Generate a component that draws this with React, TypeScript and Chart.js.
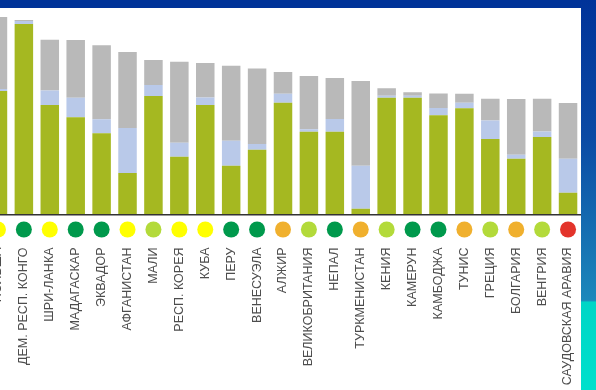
import React, { useEffect, useRef } from "react";
import { Chart, registerables } from "chart.js";

Chart.register(...registerables);

const categories = [
  "ПОЛЬША",
  "ДЕМ. РЕСП. КОНГО",
  "ШРИ-ЛАНКА",
  "МАДАГАСКАР",
  "ЭКВАДОР",
  "АФГАНИСТАН",
  "МАЛИ",
  "РЕСП. КОРЕЯ",
  "КУБА",
  "ПЕРУ",
  "ВЕНЕСУЭЛА",
  "АЛЖИР",
  "ВЕЛИКОБРИТАНИЯ",
  "НЕПАЛ",
  "ТУРКМЕНИСТАН",
  "КЕНИЯ",
  "КАМЕРУН",
  "КАМБОДЖА",
  "ТУНИС",
  "ГРЕЦИЯ",
  "БОЛГАРИЯ",
  "ВЕНГРИЯ",
  "САУДОВСКАЯ АРАВИЯ",
];

const greenValues = [61.8, 95.3, 54.8, 48.6, 40.6, 20.8, 59.3, 28.9, 54.8, 24.4, 32.4, 55.9, 41.4, 41.4, 2.9, 58.4, 58.4, 49.6, 53.1, 37.8, 27.9, 38.8, 10.9];
const blueValues = [0.9, 1.4, 7.2, 9.8, 7.0, 22.5, 5.5, 7.0, 3.7, 12.5, 2.9, 4.5, 1.2, 6.4, 21.5, 1.0, 1.0, 3.7, 2.8, 9.2, 2.0, 2.7, 17.0];
const grayValues = [36.0, 0.5, 25.4, 28.9, 37.0, 37.9, 12.5, 40.5, 17.2, 37.5, 37.7, 10.9, 26.7, 20.5, 42.4, 3.7, 1.7, 7.2, 4.5, 10.9, 27.9, 16.4, 27.9];

const DG = "#00994c";
const YE = "#ffff00";
const LG = "#b3da3a";
const OR = "#f0b02e";
const RE = "#e3342b";
const dotColors = [YE, DG, YE, DG, DG, YE, LG, YE, YE, DG, DG, OR, LG, DG, OR, LG, DG, DG, OR, LG, OR, LG, RE];

const dotsPlugin = {
  id: "dots",
  afterDraw(chart: any) {
    const ctx = chart.ctx;
    const xs = chart.scales.x;
    const y = chart.chartArea.bottom + 15;
    ctx.save();
    dotColors.forEach((c, i) => {
      const x = xs.getPixelForValue(i);
      ctx.beginPath();
      ctx.arc(x, y, 8, 0, Math.PI * 2);
      ctx.fillStyle = c;
      ctx.fill();
    });
    ctx.restore();
  },
};

export default function App() {
  const ref = useRef<HTMLCanvasElement | null>(null);
  useEffect(() => {
    if (!ref.current) return;
    const chart = new Chart(ref.current, {
      type: "bar",
      data: {
        labels: categories,
        datasets: [
          { data: greenValues, backgroundColor: "#a5b821", borderWidth: 0 },
          { data: blueValues, backgroundColor: "#b9c9e9", borderWidth: 0 },
          { data: grayValues, backgroundColor: "#b9b9b9", borderWidth: 0 },
        ],
      },
      options: {
        responsive: false,
        animation: false,
        devicePixelRatio: 1,
        layout: { padding: { top: 14.5, left: 0, right: 0, bottom: 0 } },
        datasets: { bar: { categoryPercentage: 1, barPercentage: 0.714 } },
        plugins: { legend: { display: false }, tooltip: { enabled: false } },
        scales: {
          x: {
            stacked: true,
            grid: { display: false, drawTicks: false },
            border: { display: true, color: "#333333", width: 1.5, z: 1 },
            ticks: {
              autoSkip: false,
              minRotation: 90,
              maxRotation: 90,
              padding: 33,
              color: "#4d4d4d",
              font: { family: "'Liberation Sans', Arial, sans-serif", size: 12.5 },
            },
            afterFit: (scale: any) => {
              scale.height = 175.5;
              scale.paddingLeft = 0;
              scale.paddingRight = 0;
            },
          },
          y: {
            stacked: true,
            display: false,
            min: 0,
            max: 100,
          },
        },
      },
      plugins: [dotsPlugin],
    });
    return () => chart.destroy();
  }, []);

  return (
    <div
      style={{
        position: "fixed",
        left: 0,
        top: 0,
        width: 596,
        height: 390,
        overflow: "hidden",
        background: "#003399",
      }}
    >
      <div
        style={{
          position: "absolute",
          left: 581,
          top: 0,
          width: 15,
          height: 390,
          background:
            "linear-gradient(to bottom, #003399 0%, #0b4aa4 35%, #1c88bb 77%, #00d6c6 77.5%, #00e0cc 100%)",
        }}
      />
      <div
        style={{
          position: "absolute",
          left: 0,
          top: 8,
          width: 581,
          height: 382,
          background: "#ffffff",
        }}
      />
      <canvas
        ref={ref}
        width={596}
        height={390}
        style={{ position: "absolute", left: -15, top: 0, width: 596, height: 390 }}
      />
    </div>
  );
}
